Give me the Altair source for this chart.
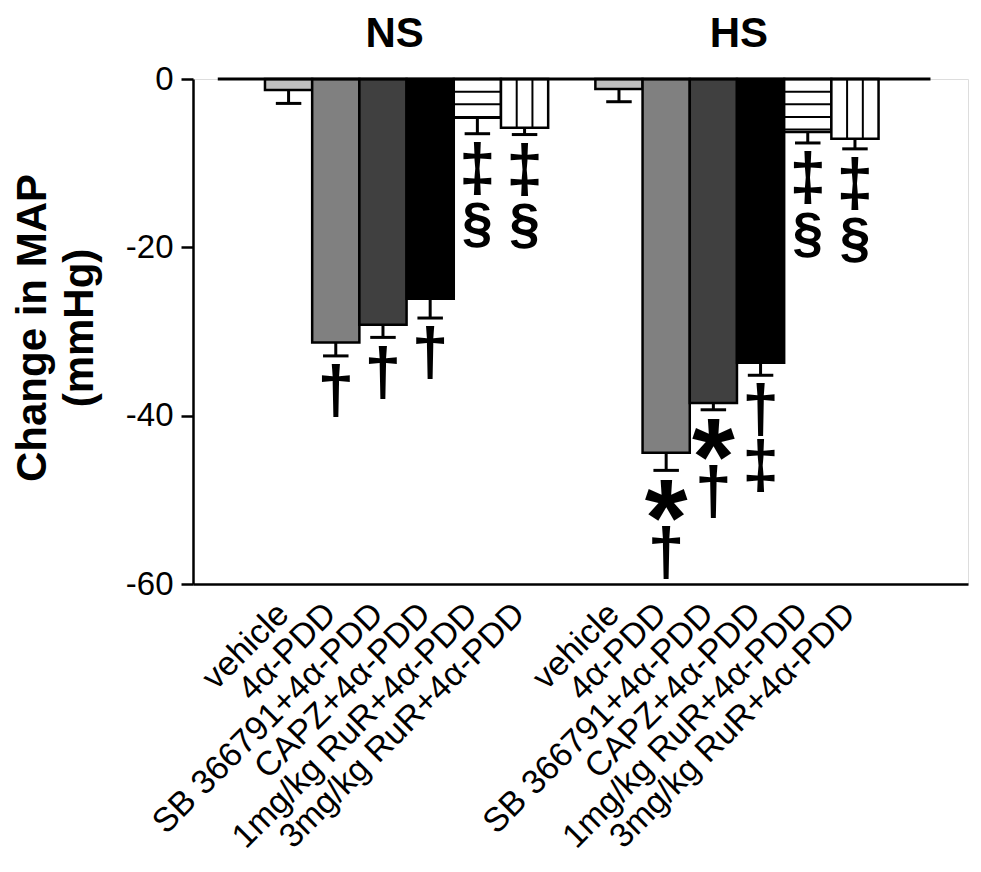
import altair as alt
import pandas as pd

# ---------------- data ----------------
groups = ["NS"] * 6 + ["HS"] * 6
treatments = ["vehicle", "4α-PDD", "SB 366791+4α-PDD", "CAPZ+4α-PDD",
              "1mg/kg RuR+4α-PDD", "3mg/kg RuR+4α-PDD"] * 2
means = [-1.3, -31.3, -29.2, -26.1, -4.6, -5.8,
         -1.2, -44.4, -38.5, -33.7, -6.3, -7.1]
sems = [1.6, 1.6, 1.5, 2.3, 1.9, 0.8,
        1.5, 2.1, 0.8, 1.5, 1.3, 1.2]
symbols = ["", "†", "†", "†", "‡§", "‡§",
           "", "*†", "*†", "†‡", "‡§", "‡§"]
fills = ["#c0c0c0", "#808080", "#404040", "#000000", "#ffffff", "#ffffff"] * 2
patterns = ["", "", "", "", "h", "v"] * 2
slots = [0, 1, 2, 3, 4, 5, 7, 8, 9, 10, 11, 12]
yticks = [0, -20, -40, -60]

# ---------------- layout constants ----------------
W, H = 775, 505
XMAX = 16.42
OFFSET = 1.525
PPU = H / 60.0          # px per y unit
PXU = W / XMAX          # px per x unit
FONT = "Liberation Sans"

df = pd.DataFrame({"group": groups, "treatment": treatments, "mean": means,
                   "sem": sems, "sym": symbols, "fill": fills,
                   "pattern": patterns, "slot": slots})
df["left"] = df["slot"] + OFFSET
df["right"] = df["left"] + 1
df["center"] = df["left"] + 0.5
df["label_x"] = df["center"] - 17 / PXU
df["low"] = df["mean"] - df["sem"]
df["cap_l"] = df["center"] - 0.27
df["cap_r"] = df["center"] + 0.27

# hatch lines derived from bar extents
hrows, vrows = [], []
for _, r in df.iterrows():
    if r["pattern"] == "h":
        k = 1
        while 1.5 * k < abs(r["mean"]):
            hrows.append({"x": r["left"], "x2": r["right"], "y": -1.5 * k})
            k += 1
    elif r["pattern"] == "v":
        for f in (1 / 3, 2 / 3):
            vrows.append({"x": r["left"] + f, "y": 0.0, "y2": r["mean"]})
dfh = pd.DataFrame(hrows)
dfv = pd.DataFrame(vrows)

# significance symbols stacked below each error cap
GLYPH = {"*": (110, 0.66, 38), "§": (55, 0.72, 50), "†": (66, 0.67, 47), "‡": (66, 0.67, 47)}
srows = []
for _, r in df.iterrows():
    top_px = 12.0
    for ch in r["sym"]:
        fs, a, h = GLYPH[ch]
        base_px = top_px + a * fs
        srows.append({"center": r["center"], "s": ch, "fs": fs,
                      "y": r["low"] - base_px / PPU})
        top_px += h + 9
dfs = pd.DataFrame(srows)

dfz = pd.DataFrame({"x": [df["left"].min() - 1.0], "x2": [df["right"].max() + 1.1], "y": [0.0]})
dfhd = df.groupby("group", sort=False)["center"].mean().reset_index()

xs = alt.Scale(domain=[0, XMAX], nice=False, zero=False)
ys = alt.Scale(domain=[-60, 0], nice=False, zero=False)

xaxis = alt.Axis(ticks=False, labels=False, grid=False, title=None,
                 domainColor="black", domainWidth=2.5)
yaxis = alt.Axis(values=yticks, labelExpr="toString(datum.value)", grid=False,
                 tickSize=12, tickWidth=2.5, tickColor="black",
                 domainColor="black", domainWidth=2.5,
                 labelFont=FONT, labelFontSize=33, labelColor="black", labelPadding=8,
                 title=["Change in MAP", "(mmHg)"], titleFont=FONT, titleFontSize=42,
                 titleFontWeight="bold", titleColor="black", titleLineHeight=47,
                 titleAngle=270, titleAlign="center", titleBaseline="bottom",
                 titleX=-139, titleY=H / 2 - 4)

base = alt.Chart(df)

bars = base.mark_rect(stroke="black", strokeWidth=2.5).encode(
    x=alt.X("left:Q", scale=xs, axis=xaxis),
    x2="right:Q",
    y=alt.Y("mean:Q", scale=ys, axis=yaxis),
    y2=alt.datum(0),
    fill=alt.Fill("fill:N", scale=None),
)

hatch_h = alt.Chart(dfh).mark_rule(color="black", strokeWidth=2).encode(
    x=alt.X("x:Q", scale=xs), x2="x2:Q",
    y=alt.Y("y:Q", scale=ys))

hatch_v = alt.Chart(dfv).mark_rule(color="black", strokeWidth=2).encode(
    x=alt.X("x:Q", scale=xs),
    y=alt.Y("y:Q", scale=ys), y2="y2:Q")

zero = alt.Chart(dfz).mark_rule(color="black", strokeWidth=3).encode(
    x=alt.X("x:Q", scale=xs), x2="x2:Q",
    y=alt.Y("y:Q", scale=ys))

err = base.mark_rule(color="black", strokeWidth=3).encode(
    x=alt.X("center:Q", scale=xs),
    y=alt.Y("mean:Q", scale=ys), y2="low:Q")

caps = base.mark_rule(color="black", strokeWidth=3).encode(
    x=alt.X("cap_l:Q", scale=xs), x2="cap_r:Q",
    y=alt.Y("low:Q", scale=ys))

syms = alt.Chart(dfs).mark_text(font=FONT, fontWeight="bold", color="black",
                                align="center", baseline="alphabetic").encode(
    x=alt.X("center:Q", scale=xs),
    y=alt.Y("y:Q", scale=ys),
    text="s:N",
    size=alt.Size("fs:Q", scale=None, legend=None))

labels = base.mark_text(font=FONT, fontSize=34, color="black", angle=315,
                        align="right", baseline="top").encode(
    x=alt.X("label_x:Q", scale=xs),
    y=alt.value(H + 13),
    text="treatment:N")

hd_ns = alt.Chart(dfhd).transform_filter(alt.datum.group == "NS").mark_text(
    font=FONT, fontSize=42, fontWeight="bold", color="black",
    align="center", baseline="alphabetic", dx=-12).encode(
    x=alt.X("center:Q", scale=xs), y=alt.value(-32), text="group:N")
hd_hs = alt.Chart(dfhd).transform_filter(alt.datum.group == "HS").mark_text(
    font=FONT, fontSize=42, fontWeight="bold", color="black",
    align="center", baseline="alphabetic", dx=2).encode(
    x=alt.X("center:Q", scale=xs), y=alt.value(-32), text="group:N")

chart = alt.layer(bars, hatch_h, hatch_v, zero, err, caps, syms, labels, hd_ns, hd_hs).properties(
    width=W, height=H,
    autosize=alt.AutoSizeParams(type="none"),
    padding={"left": 185, "top": 71, "right": 5, "bottom": 284},
).configure_view(strokeWidth=0).configure(background="white")

chart.save("out.html", embed_options={"renderer": "svg", "actions": False})
